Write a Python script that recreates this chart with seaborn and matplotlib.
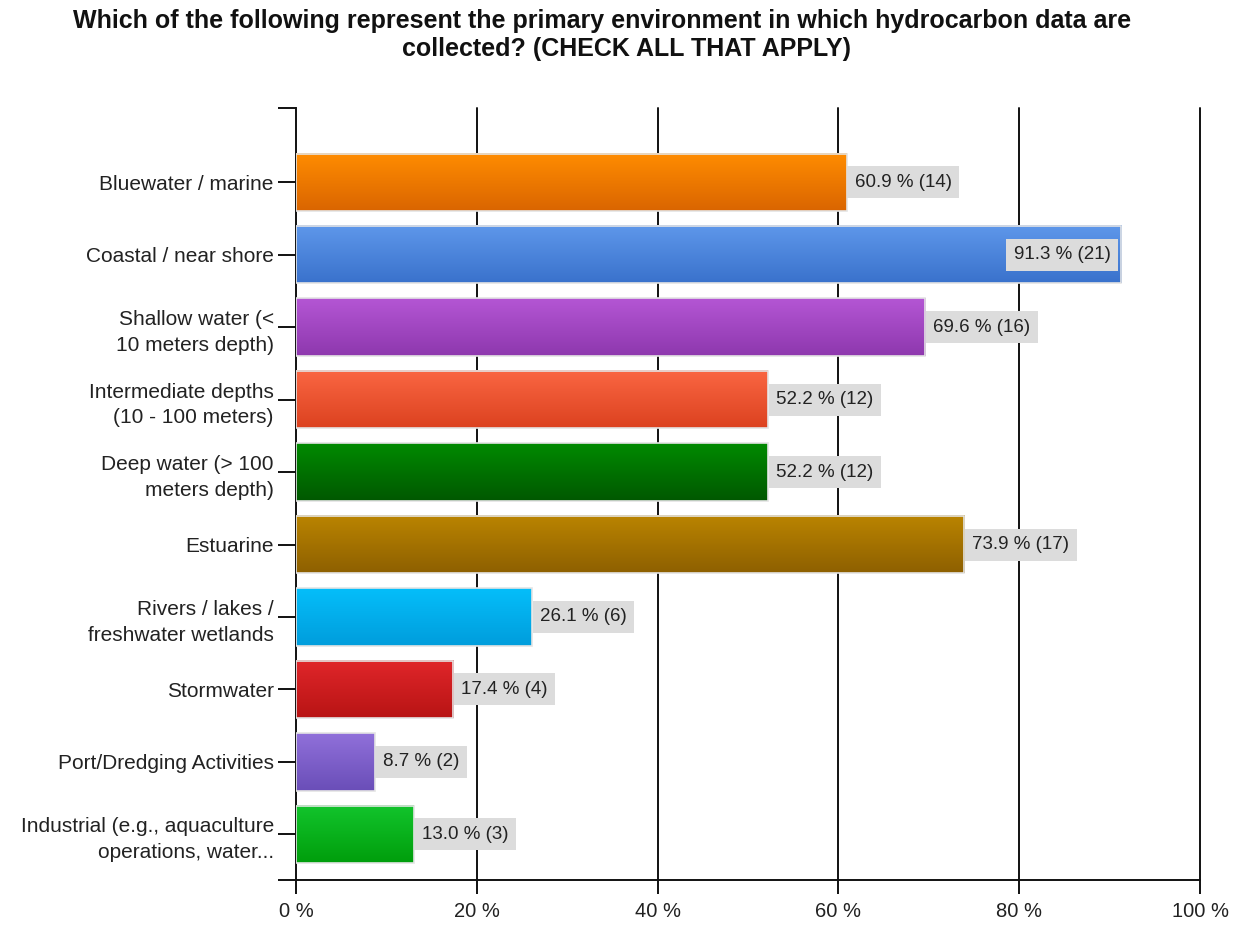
import numpy as np
import pandas as pd
import matplotlib
matplotlib.use("Agg")
import matplotlib.pyplot as plt
import seaborn as sns
from matplotlib.colors import LinearSegmentedColormap

sns.set_theme(style="white")
plt.rcParams["font.family"] = ["Liberation Sans", "DejaVu Sans"]

# data
categories = [
    "Bluewater / marine",
    "Coastal / near shore",
    "Shallow water (<\n10 meters depth)",
    "Intermediate depths\n(10 - 100 meters)",
    "Deep water (> 100\nmeters depth)",
    "Estuarine",
    "Rivers / lakes /\nfreshwater wetlands",
    "Stormwater",
    "Port/Dredging Activities",
    "Industrial (e.g., aquaculture\noperations, water...",
]
percents = [60.9, 91.3, 69.6, 52.2, 52.2, 73.9, 26.1, 17.4, 8.7, 13.0]
counts = [14, 21, 16, 12, 12, 17, 6, 4, 2, 3]

# (top, bottom) gradient colours per bar
top_colors = ["#FF8C00", "#5E97EA", "#B456D4", "#FA6642", "#008A00",
              "#BA8400", "#05BEFA", "#E0262A", "#9070DA", "#12C42C"]
bottom_colors = ["#DA6500", "#3A72CC", "#8E38AE", "#DC4220", "#005800",
                 "#8E6000", "#009DDC", "#B81414", "#6A4EB8", "#009E0C"]

df = pd.DataFrame({"category": categories, "percent": percents})

fig = plt.figure(figsize=(12.5, 9.47), dpi=100)
ax = fig.add_axes([0.2368, 0.0707, 0.7232, 0.815])

sns.barplot(data=df, x="percent", y="category", orient="h",
            width=0.79, color="white", ax=ax, zorder=3)

# gradient fill on each bar
for p, c1, c2 in zip(ax.patches, top_colors, bottom_colors):
    x, y, w, h = p.get_x(), p.get_y(), p.get_width(), p.get_height()
    cmap = LinearSegmentedColormap.from_list("g", [c1, c2])
    grad = np.linspace(0, 1, 64).reshape(-1, 1)
    ax.imshow(grad, extent=(x, x + w, y + h, y), aspect="auto",
              cmap=cmap, zorder=3.5, interpolation="bilinear")
    p.set_facecolor("none")
    p.set_edgecolor("#E4E4E4")
    p.set_linewidth(1.2)
    p.set_zorder(4)

# value labels
for i, (v, n) in enumerate(zip(percents, counts)):
    txt = f"{v:.1f} % ({n})"
    if v > 85:
        ax.text(v - 1.2, i, txt, ha="right", va="center", fontsize=13.5,
                color="#222222", zorder=6,
                bbox=dict(boxstyle="square,pad=0.4", fc="#DCDCDC", ec="none"))
    else:
        ax.text(v + 0.9, i, txt, ha="left", va="center", fontsize=13.5,
                color="#222222", zorder=6,
                bbox=dict(boxstyle="square,pad=0.4", fc="#DCDCDC", ec="none"))

ax.set_xlim(0, 100)
ax.set_ylim(9.63, -1.02)
ax.set_xticks([0, 20, 40, 60, 80, 100])
ax.set_xticklabels(["0 %", "20 %", "40 %", "60 %", "80 %", "100 %"])
ax.set_yticks(range(len(categories)))
ax.set_yticks([-1.02, 9.63], minor=True)
ax.set_xlabel("")
ax.set_ylabel("")

for x in [20, 40, 60, 80, 100]:
    ax.axvline(x, color="#111111", lw=1.4, zorder=2, clip_on=False)

for s in ["top", "right"]:
    ax.spines[s].set_visible(False)
for s in ["left", "bottom"]:
    ax.spines[s].set_color("#111111")
    ax.spines[s].set_linewidth(1.4)

ax.tick_params(axis="y", which="both", direction="out", length=13, width=1.4,
               color="#111111", left=True, labelsize=15, labelcolor="#222222",
               pad=3)
ax.tick_params(axis="x", direction="out", length=10, width=1.4,
               color="#111111", bottom=True, labelsize=14.5, labelcolor="#222222",
               pad=6)
for lab in ax.get_yticklabels():
    lab.set_ha("right")
    lab.set_multialignment("right")
    lab.set_linespacing(1.45)

# title, two centred lines
fig.text(602 / 1250, 1 - 21 / 947,
         "Which of the following represent the primary environment in which hydrocarbon data are",
         ha="center", va="center", fontsize=18, fontweight="bold", color="#111111")
fig.text(626 / 1250, 1 - 49 / 947,
         "collected? (CHECK ALL THAT APPLY)",
         ha="center", va="center", fontsize=18, fontweight="bold", color="#111111")

fig.savefig("out.png", dpi=100, facecolor="white")
